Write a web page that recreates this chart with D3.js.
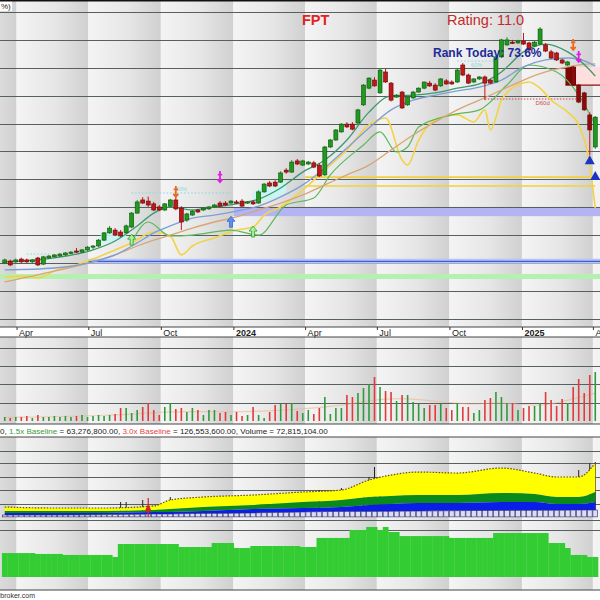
<!DOCTYPE html>
<html>
<head>
<meta charset="utf-8">
<script src="https://cdn.jsdelivr.net/npm/d3@7"></script>
<style>
  body { margin: 0; background: #fff; }
  svg { display: block; font-family: Arial, "Liberation Sans", sans-serif; }
</style>
</head>
<body>
<svg width="600" height="600"></svg>
<script>
// ---------- data (weekly bars, FPT) ----------
const weeks = d3.timeFriday.range(new Date(2023, 2, 17), new Date(2025, 3, 5));

const quarterStarts = ["2023-01-01","2023-04-01","2023-07-01","2023-10-01","2024-01-01","2024-04-01",
  "2024-07-01","2024-10-01","2025-01-01","2025-04-01","2025-07-01"].map(d => new Date(d + "T00:00:00"));
const quarterLabels = ["2023","Apr","Jul","Oct","2024","Apr","Jul","Oct","2025","Apr"];

const open = [70.0,70.7,70.4,71.4,71.1,70.4,71.8,69.6,71.8,72.2,72.5,72.9,73.6,74.3,73.9,74.7,75.7,76.1,78.2,80.8,
  81.8,81.1,80.8,82.9,87.9,92.6,92.2,91.2,90.1,89.0,90.4,92.6,89.7,85.4,87.2,89.0,89.0,89.4,90.1,91.5,
  91.5,91.5,91.9,92.2,91.5,91.9,91.5,95.5,98.7,99.0,99.0,103.3,102.6,106.6,105.1,105.5,105.9,105.1,101.6,111.6,
  114.1,117.0,119.8,119.8,120.2,126.7,132.7,135.6,131.0,138.5,134.5,129.5,131.3,126.7,129.2,131.3,132.7,134.5,133.8,133.5,
  135.3,134.9,134.9,141.0,137.4,134.9,136.0,136.7,135.6,134.9,143.9,148.2,149.2,148.9,149.6,148.9,147.8,148.5,148.2,145.7,
  145.3,142.8,141.0,140.3,133.8,131.0,123.1,111.6];
const high = [71.6,71.2,71.6,71.9,71.6,71.4,72.2,72.6,72.9,73.2,73.6,73.9,74.3,75.4,75.0,76.1,76.4,78.6,81.1,83.3,
  82.5,81.8,83.8,88.3,92.6,93.6,93.8,91.9,90.8,91.5,93.0,94.5,90.4,88.0,89.0,89.4,90.1,90.4,91.2,92.2,
  92.2,92.6,92.6,92.9,92.2,92.6,96.1,98.7,99.4,99.7,102.9,104.0,106.9,107.3,107.0,106.6,106.6,105.8,112.0,114.5,
  118.0,120.2,120.5,120.5,125.3,134.2,136.6,136.6,139.9,139.6,134.9,130.6,131.7,129.9,131.7,133.0,135.0,135.3,134.5,136.3,
  135.9,135.5,139.6,141.7,137.9,136.3,137.0,137.2,136.0,144.3,150.4,151.0,150.0,150.0,152.5,149.3,149.6,154.6,148.9,146.4,
  145.7,143.2,142.5,140.7,134.2,131.4,124.0,122.7];
const low = [69.6,68.9,70.0,70.0,70.0,70.0,68.9,69.3,71.4,71.8,72.2,72.5,73.2,73.6,73.6,74.3,75.0,75.7,77.9,80.4,
  79.7,79.3,80.4,82.5,87.6,91.2,90.1,88.6,88.6,88.6,90.1,88.9,81.8,84.7,86.9,87.9,88.6,89.0,89.7,90.1,
  90.4,91.2,91.2,90.1,91.2,90.8,91.2,95.2,97.2,97.2,98.7,102.0,102.3,105.1,104.8,105.1,104.0,100.8,101.2,111.2,
  113.8,116.7,118.4,117.6,119.8,126.3,132.3,133.2,130.6,134.6,127.9,129.2,125.2,126.3,128.8,131.0,132.3,133.1,131.6,133.1,
  133.9,133.9,134.5,137.0,134.2,134.5,135.6,128.4,134.2,134.5,143.5,147.8,148.5,148.5,148.2,146.0,147.4,148.2,145.6,143.2,
  142.4,141.3,140.6,133.4,127.3,124.5,108.7,110.9];
const close = [71.1,69.3,71.1,70.4,70.4,71.1,69.3,72.2,72.5,72.9,73.2,73.6,73.9,73.9,74.7,75.7,76.1,78.2,80.8,82.5,
  80.0,79.7,83.3,87.9,91.9,91.5,90.8,89.0,89.0,91.2,92.6,89.4,84.7,87.6,88.6,88.3,89.7,90.1,90.8,90.4,
  90.8,92.2,91.5,90.4,91.9,91.2,95.5,98.3,97.6,97.6,102.3,102.6,106.2,105.5,106.6,106.2,104.4,101.2,111.6,114.1,
  117.7,119.8,118.8,118.0,124.9,133.8,136.3,133.5,139.2,134.9,128.4,130.2,125.6,129.5,131.3,132.7,134.9,133.5,132.0,136.0,
  134.2,134.2,139.2,137.4,134.5,136.0,136.7,134.5,134.5,143.9,150.0,150.0,148.9,149.6,148.5,146.4,149.2,153.9,146.0,143.5,
  142.8,141.7,142.1,133.8,127.7,124.9,117.7,122.3];

// weekly volume, millions
const volume = [5.5,4.1,5.5,5.5,6.8,4.1,8.2,5.5,5.5,6.8,5.5,6.8,5.5,6.8,8.2,5.5,6.8,8.2,6.8,8.2,
  9.6,17.8,17.8,10.9,15.0,19.1,24.6,15.0,8.2,19.1,24.6,16.4,17.8,12.3,17.8,15.0,8.2,15.0,15.0,10.9,
  12.3,8.2,12.3,6.8,8.2,19.1,8.2,4.1,12.3,21.9,23.2,23.2,24.6,13.7,10.9,15.0,9.6,17.8,32.8,9.6,
  17.8,17.8,35.5,32.8,38.2,45.1,50.5,60.1,46.4,41.0,39.6,27.3,35.5,35.5,26.0,23.2,17.8,21.9,21.9,23.2,
  17.8,15.0,24.6,19.1,19.1,10.9,15.0,28.7,31.4,39.6,32.8,24.6,24.6,15.0,17.8,20.5,20.5,24.6,39.6,28.7,
  20.5,30.1,24.6,46.4,57.4,38.2,62.8,66.9];
const volMaIdx = [0, 20, 30, 40, 50, 60, 66, 72, 78, 84, 90, 96, 100, 107];
const volMa = [5, 7, 14, 12, 14, 20, 28, 32, 27, 22, 26, 20, 24, 38];

// overlay lines on the price pane, read at sample weeks
const maIdx = [0, 9, 16, 20, 24, 27, 30, 34, 38, 42, 46, 50, 54, 58, 62, 66, 70, 74, 78, 82, 86, 90, 94, 98, 102, 106, 107];
const maFast = [70.4,71.8,74.7,77.9,83.3,87.9,90.1,89.0,90.1,91.2,92.9,96.9,102.6,106.9,114.1,124.1,129.9,130.2,131.0,132.7,134.2,138.5,145.7,148.5,145.7,139.2,137.0];
const maMid = [67.5,68.2,70.4,72.9,77.2,80.8,83.3,86.1,87.2,88.6,90.4,93.7,98.0,104.1,111.2,118.4,124.9,128.4,130.2,131.7,133.1,135.6,140.3,142.8,143.5,141.7,140.6];
const maSlow = [63.2,67.1,70.4,72.9,76.1,78.2,80.0,82.5,84.7,86.5,89.0,91.5,94.4,98.0,101.6,105.1,110.5,115.9,120.6,124.9,128.4,132.0,135.6,138.5,140.3,141.4,141.4];
const rsIdx = [0,4,6,9,13,16,20,23,27,30,32,34,38,42,45,47,50,54,58,62,66,69,72,73,75,78,82,85,87,88,90,93,95,97,99,102,104,106,107];
const rsLine = [65.0,65.3,64.6,67.1,69.3,71.4,74.7,77.2,81.1,79.7,72.9,76.1,79.0,81.8,82.9,87.2,90.1,96.2,103.3,110.5,119.5,122.0,106.9,105.1,114.1,121.3,123.1,120.6,124.9,117.7,128.4,133.8,134.9,132.7,128.4,124.1,119.5,105.1,89.7];
const rsAvgIdx = [23, 26, 30, 34, 41, 46, 51, 56, 59, 65, 68, 71, 73, 75, 81, 86, 91, 95, 100, 104, 107];
const rsAvg = [77.5,84.7,79.7,80.0,81.8,80.0,90.8,93.3,101.6,112.3,117.0,109.8,111.6,118.8,123.1,124.9,133.8,141.0,138.5,130.2,119.5];

// light cyan clouds: [week indices], upper and lower edges
const cloudIdx = [[17, 19, 21, 22], [45, 47, 49, 51]];
const cloudTop = [[79.0, 81.8, 81.1, 80.8], [95.5, 97.8, 98.6, 99.6]];
const cloudBot = [[76.5, 77.5, 78.2, 78.6], [92.0, 92.6, 93.4, 95.5]];

// dotted reference lines: [from week, to week, price]
const cyanDots = [[23, 41, 95.1], [82, 89, 142.4], [4, 8, 73.2]];
const redDots = [[87, 105, 128.8]];

// levels on the price pane
const priceGrid = [50,60,70,80,90,100,110,120,130,140,150,160];
const blueLevel = 70.6, greenLevel = 65.2;
const lavBand = [86.8, 90.1];
const yellowLevels = [100.8, 97.6];
const pinkZone = [103.5, 140.3, 133.8];
const darkZone = [101.6, 103.5, 140.3, 133.8];

// signals: [week index, price]
const orangeSig = [[31, 95.5], [103, 148.2]];
const magentaSig = [[39, 100.8], [104, 143.9]];
const blueUpSig = [[41, 84.6]];
const greenUpSig = [[23, 78.2], [45, 81.1]];
const triSig = [[106, 106.8], [107, 101.2]];

// lower pane: volume baseline bands (millions) at sample weeks
const lowIdx = [0, 9, 18, 27, 30, 36, 45, 54, 61, 66, 70, 75, 82, 90, 96, 100, 104, 107];
const band3x = [30.6,28.4,28.4,32.8,45.9,52.4,56.8,63.3,67.7,89.5,100.4,107.0,104.8,115.7,104.8,96.1,96.1,126.6];
const band15x = [21.8,21.8,21.8,24.0,26.2,30.6,34.9,41.5,45.9,52.4,54.6,56.8,56.8,61.1,59.0,52.4,52.4,63.3];
const band1x = [17.5,17.5,17.5,19.7,19.7,21.8,26.2,28.4,30.6,34.9,37.1,39.3,39.3,41.5,41.5,37.1,37.1,41.5];
const bandLow = [13.1,13.1,13.5,15.3,15.3,16.4,17.5,19.7,20.7,21.0,21.3,21.8,22.3,23.0,23.5,23.5,24.0,24.0];
const spikeIdx = [21, 22, 25, 30, 57, 61, 64, 65, 66, 67, 68, 104, 106, 107];
const spikeTop = [41.5,41.5,45.9,52.4,67.7,72.1,78.6,83.0,96.1,117.9,89.5,111.4,126.6,128.8];
const lowGrid = [-19.7, 2.2, 37.1, 67.7, 96.1, 126.6, 152.8];

// bottom histogram
const rating = [19.0,19.0,19.0,19.0,19.0,19.0,18.3,18.3,18.3,18.3,18.3,17.5,17.5,17.5,17.5,17.5,17.5,17.5,17.5,17.5,
  15.9,26.2,26.2,26.2,26.2,26.2,26.2,26.2,26.2,26.2,26.2,26.2,23.8,23.8,23.8,23.8,23.8,23.8,27.0,27.0,
  27.0,27.0,23.0,23.0,23.0,24.6,24.6,24.6,24.6,24.6,24.6,24.6,24.6,24.6,23.8,23.8,23.8,31.0,31.0,31.0,
  31.0,31.0,31.0,37.3,37.3,37.3,39.7,39.7,37.3,39.7,35.7,35.7,32.5,32.5,32.5,32.5,32.5,32.5,32.5,32.5,
  32.5,31.0,31.0,31.0,31.0,31.0,31.0,31.0,31.0,34.9,34.9,34.9,34.9,34.9,34.9,34.9,34.9,34.9,34.9,27.0,
  27.0,27.0,23.0,17.5,17.5,17.5,15.9,15.9];

// ---------- chart ----------
const svg = d3.select("svg");
const W = 600;
const green = "#1f9a1f", red = "#c01818";

const x = d3.scaleTime().domain([new Date(2023, 2, 11), new Date(2025, 3, 10)]).range([0, W]);
const yP = d3.scaleLinear().domain([70, 160]).range([263, 12]);
const yV = d3.scaleLinear().domain([0, 100]).range([421, 347.8]);
const yL = d3.scaleLinear().domain([0, 130]).range([521, 461.5]);
const yR = d3.scaleLinear().domain([0, 100]).range([577, 451]);
const weekPos = d3.scaleLinear().domain(d3.range(weeks.length)).range(weeks.map(d => x(d)));
const xi = i => weekPos(i);
const up = i => close[i] >= open[i];

const panes = [
  {id: "pPrice", top: 1, bottom: 327},
  {id: "pVol", top: 337, bottom: 424},
  {id: "pLow", top: 437, bottom: 590}
];

const defs = svg.append("defs");
const grad = defs.append("linearGradient").attr("id", "colGrad").attr("x1", 0).attr("x2", 1).attr("y1", 0).attr("y2", 0);
grad.append("stop").attr("offset", "0%").attr("stop-color", "#f4f4f4");
grad.append("stop").attr("offset", "55%").attr("stop-color", "#e6e6e6");
grad.append("stop").attr("offset", "100%").attr("stop-color", "#d0d0d0");
panes.forEach(p => {
  defs.append("clipPath").attr("id", "clip-" + p.id)
    .append("rect").attr("x", 0).attr("y", p.top).attr("width", W).attr("height", p.bottom - p.top);
});

// column backgrounds
panes.forEach(p => {
  svg.append("g").selectAll("rect")
    .data(d3.pairs(quarterStarts))
    .join("rect")
    .attr("x", d => x(d[0]))
    .attr("width", d => x(d[1]) - x(d[0]))
    .attr("y", p.top).attr("height", p.bottom - p.top)
    .attr("fill", "url(#colGrad)");
});

// ===== price pane =====
const gp = svg.append("g").attr("clip-path", "url(#clip-pPrice)");

gp.append("rect")
  .attr("x", x(quarterStarts[4])).attr("width", W - x(quarterStarts[4]))
  .attr("y", yP(lavBand[1])).attr("height", yP(lavBand[0]) - yP(lavBand[1]))
  .attr("fill", "#b4b4f4");

gp.selectAll(".grid").data(priceGrid).join("line")
  .attr("x1", 0).attr("x2", W)
  .attr("y1", d => Math.round(yP(d)) + 0.5).attr("y2", d => Math.round(yP(d)) + 0.5)
  .attr("stroke", "#56605e").attr("stroke-width", 1);

gp.append("line").attr("x1", 0).attr("x2", W)
  .attr("y1", yP(greenLevel)).attr("y2", yP(greenLevel))
  .attr("stroke", "#b6f0b0").attr("stroke-width", 5);
gp.append("line").attr("x1", x(quarterStarts[2])).attr("x2", W)
  .attr("y1", yP(blueLevel)).attr("y2", yP(blueLevel))
  .attr("stroke", "#b8c4f4").attr("stroke-width", 5);
gp.append("line").attr("x1", x(quarterStarts[2])).attr("x2", W)
  .attr("y1", yP(blueLevel)).attr("y2", yP(blueLevel))
  .attr("stroke", "#3d5fd0").attr("stroke-width", 1.3);

gp.selectAll(".ylev").data(yellowLevels).join("line")
  .attr("x1", x(quarterStarts[5])).attr("x2", xi(107))
  .attr("y1", d => yP(d)).attr("y2", d => yP(d))
  .attr("stroke", "#f0d040").attr("stroke-width", 1.6);

// clouds
cloudIdx.forEach((ix, c) => {
  gp.append("path")
    .attr("d", d3.area().x((d, k) => xi(ix[k])).y0((d, k) => yP(cloudBot[c][k])).y1(d => yP(d))
      .curve(d3.curveMonotoneX)(cloudTop[c]))
    .attr("fill", "#c6f6f4").attr("opacity", 0.9);
});

// zones at the end
gp.append("rect")
  .attr("x", xi(pinkZone[0])).attr("width", W - xi(pinkZone[0]))
  .attr("y", yP(pinkZone[1])).attr("height", yP(pinkZone[2]) - yP(pinkZone[1]))
  .attr("fill", "#ffdede");
gp.append("rect")
  .attr("x", xi(darkZone[0])).attr("width", xi(darkZone[1]) - xi(darkZone[0]))
  .attr("y", yP(darkZone[2])).attr("height", yP(darkZone[3]) - yP(darkZone[2]))
  .attr("fill", "#7a0606");
gp.append("line").attr("x1", xi(darkZone[0])).attr("x2", W)
  .attr("y1", yP(pinkZone[2])).attr("y2", yP(pinkZone[2])).attr("stroke", "#8a1010").attr("stroke-width", 1.2);

// dotted reference lines
gp.selectAll(".cdot").data(cyanDots).join("line")
  .attr("x1", d => xi(d[0])).attr("x2", d => xi(d[1]))
  .attr("y1", d => yP(d[2])).attr("y2", d => yP(d[2]))
  .attr("stroke", "#7fd8e0").attr("stroke-width", 1).attr("stroke-dasharray", "1.5,2");
gp.selectAll(".clab").data(cyanDots.slice(0, 2)).join("text")
  .attr("x", d => xi((d[0] + d[1]) / 2)).attr("y", (d, k) => yP(d[2]) + (k === 0 ? -2 : 6))
  .attr("font-size", 5.5).attr("fill", "#8ad8e0").attr("text-anchor", "middle").text("60%");
gp.selectAll(".rdot").data(redDots).join("line")
  .attr("x1", d => xi(d[0])).attr("x2", d => xi(d[1]))
  .attr("y1", d => yP(d[2])).attr("y2", d => yP(d[2]))
  .attr("stroke", "#d04040").attr("stroke-width", 1).attr("stroke-dasharray", "1.5,1.5");
gp.selectAll(".rlab").data(redDots).join("text")
  .attr("x", d => xi((d[0] + d[1]) / 2) + 8).attr("y", d => yP(d[2]) + 6)
  .attr("font-size", 6).attr("fill", "#d05050").attr("text-anchor", "middle").text("D60d");

const line = (idx, vals) => d3.line().x((d, k) => xi(idx[k])).y(d => yP(d)).curve(d3.curveMonotoneX)(vals);
gp.append("path").attr("d", line(rsIdx, rsLine)).attr("fill", "none").attr("stroke", "#f2d347").attr("stroke-width", 1.6);
gp.append("path").attr("d", line(rsAvgIdx, rsAvg)).attr("fill", "none").attr("stroke", "#5cb85a").attr("stroke-width", 1.2);
gp.append("path").attr("d", line(maIdx, maSlow)).attr("fill", "none").attr("stroke", "#d9a574").attr("stroke-width", 1.3);
gp.append("path").attr("d", line(maIdx, maMid)).attr("fill", "none").attr("stroke", "#7d9fd4").attr("stroke-width", 1.3);
gp.append("path").attr("d", line(maIdx, maFast)).attr("fill", "none").attr("stroke", "#3a9a6e").attr("stroke-width", 1.3);

// candles
const idx = d3.range(weeks.length);
gp.selectAll(".wick").data(idx).join("line")
  .attr("x1", xi).attr("x2", xi)
  .attr("y1", i => yP(high[i])).attr("y2", i => yP(low[i]))
  .attr("stroke", i => up(i) ? green : red).attr("stroke-width", 1);
gp.selectAll(".body").data(idx).join("rect")
  .attr("x", i => xi(i) - 2).attr("width", 4)
  .attr("y", i => yP(Math.max(open[i], close[i])))
  .attr("height", i => Math.max(1.2, Math.abs(yP(open[i]) - yP(close[i]))))
  .attr("fill", i => up(i) ? green : (i >= 103 ? "#8c0a0a" : red))
  .attr("stroke", i => up(i) ? "#0c4f0c" : "#640808").attr("stroke-width", 0.6);

// signals
const sig = (data, pathStr, fill, stroke, sw) => gp.append("g").selectAll("path").data(data).join("path")
  .attr("transform", d => `translate(${xi(d[0])},${yP(d[1])})`)
  .attr("d", pathStr).attr("fill", fill).attr("stroke", stroke).attr("stroke-width", sw);
sig(orangeSig, "M0,-6L0,5M-2.5,2L0,5L2.5,2M-2.2,-2.5L2.2,-2.5", "none", "#ee6a1a", 1.8);
sig(magentaSig, "M0,-6L0,5M-2.5,2L0,5L2.5,2M-2.2,-2.5L2.2,-2.5", "none", "#e020e0", 1.8);
sig(blueUpSig, "M0,-6L4,-1L1.5,-1L1.5,5L-1.5,5L-1.5,-1L-4,-1Z", "#5a90f0", "#2050c0", 0.6);
sig(greenUpSig, "M0,-6L4,-1L1.5,-1L1.5,5L-1.5,5L-1.5,-1L-4,-1Z", "#a8f0a0", "#2a9a2a", 0.8);
sig(triSig, "M0,-5L5,4L-5,4Z", "#1a34c8", "none", 0);

// titles
svg.append("rect").attr("x", 0).attr("y", 1).attr("width", 12).attr("height", 10).attr("fill", "#fff");
svg.append("text").attr("x", 1).attr("y", 9).attr("font-size", 8).attr("fill", "#222").text("%)");
svg.append("text").attr("x", 302).attr("y", 25).attr("font-size", 14.5).attr("font-weight", "bold")
  .attr("fill", "#e42222").text("FPT");
svg.append("text").attr("x", 447).attr("y", 25).attr("font-size", 14.5)
  .attr("fill", "#c42a2a").text("Rating: 11.0");
svg.append("text").attr("x", 433).attr("y", 57).attr("font-size", 12).attr("font-weight", "bold")
  .attr("fill", "#1c2a9a").text("Rank Today: 73.6%");

// ===== date axis row =====
svg.append("rect").attr("x", 0).attr("y", 327).attr("width", W).attr("height", 10).attr("fill", "#fff");
const ax = svg.append("g").attr("transform", "translate(0,327)")
  .call(d3.axisBottom(x).tickValues(quarterStarts.slice(1, 10)).tickSize(3)
    .tickFormat((d, k) => quarterLabels[k + 1]));
ax.select(".domain").remove();
ax.selectAll(".tick line").attr("stroke", "#333");
ax.selectAll(".tick text").attr("text-anchor", "start").attr("x", 2).attr("y", 2.5).attr("dy", "0.71em")
  .attr("font-size", 9).attr("font-family", "Arial, sans-serif").attr("fill", "#222")
  .attr("font-weight", (d, k) => /^\d/.test(quarterLabels[k + 1]) ? "bold" : "normal");

// ===== volume pane =====
const gv = svg.append("g").attr("clip-path", "url(#clip-pVol)");
gv.selectAll(".grid").data([25, 50, 75, 100]).join("line")
  .attr("x1", 0).attr("x2", W)
  .attr("y1", d => Math.round(yV(d)) + 0.5).attr("y2", d => Math.round(yV(d)) + 0.5)
  .attr("stroke", "#56605e");
gv.append("path")
  .attr("d", d3.line().x((d, k) => xi(volMaIdx[k])).y(d => yV(d)).curve(d3.curveBasis)(volMa))
  .attr("fill", "none").attr("stroke", "#f0b48e").attr("stroke-width", 1.2).attr("opacity", 0.6);
gv.selectAll(".vbar").data(idx).join("line")
  .attr("x1", xi).attr("x2", xi)
  .attr("y1", yV(0)).attr("y2", i => yV(volume[i]))
  .attr("stroke", i => up(i) ? "#2f9a3a" : "#e23a3a").attr("stroke-width", 1.6);

// label row
svg.append("rect").attr("x", 0).attr("y", 424).attr("width", W).attr("height", 13).attr("fill", "#fff");
const vt = svg.append("text").attr("x", 0).attr("y", 433.5).attr("font-size", 8.05).attr("fill", "#222");
vt.append("tspan").text("0, ");
vt.append("tspan").attr("fill", "#3c9a3c").text("1.5x Baseline");
vt.append("tspan").text(" = 63,276,800.00, ");
vt.append("tspan").attr("fill", "#e04646").text("3.0x Baseline");
vt.append("tspan").text(" = 126,553,600.00, Volume = 72,815,104.00");

// ===== lower pane =====
const gl = svg.append("g").attr("clip-path", "url(#clip-pLow)");
gl.selectAll(".grid").data(lowGrid).join("line")
  .attr("x1", 0).attr("x2", W)
  .attr("y1", d => Math.round(yL(d)) + 0.5).attr("y2", d => Math.round(yL(d)) + 0.5)
  .attr("stroke", "#56605e");

gl.selectAll(".spike").data(spikeIdx).join("line")
  .attr("x1", i => xi(i)).attr("x2", i => xi(i))
  .attr("y1", yL(20)).attr("y2", (i, k) => yL(spikeTop[k]))
  .attr("stroke", "#222").attr("stroke-width", 1);

const band = (top, bot) => d3.area()
  .x((d, k) => xi(lowIdx[k])).y0((d, k) => yL(bot[k])).y1(d => yL(d))
  .curve(d3.curveMonotoneX)(top);
gl.append("path").attr("d", band(band3x, band15x)).attr("fill", "#ffff00");
gl.append("path").attr("d", band(band15x, band1x)).attr("fill", "#0a8a1a");
gl.append("path").attr("d", band(band1x, bandLow)).attr("fill", "#0a1ee8");
gl.append("path")
  .attr("d", d3.line().x((d, k) => xi(lowIdx[k])).y(d => yL(d)).curve(d3.curveMonotoneX)(band3x))
  .attr("fill", "none").attr("stroke", "#6a4a10").attr("stroke-width", 1.2).attr("stroke-dasharray", "1.5,1.5");

// strip of weekly boxes under the bands
const lowInterp = d3.scaleLinear().domain(lowIdx).range(bandLow);
gl.selectAll(".box").data(idx).join("rect")
  .attr("x", i => xi(i) - 2.4).attr("width", 4.8)
  .attr("y", i => yL(lowInterp(i))).attr("height", i => yL(9) - yL(lowInterp(i)))
  .attr("fill", "#dcdcf6").attr("stroke", "#2a2a6a").attr("stroke-width", 0.6);

// red marker
gl.append("line").attr("x1", xi(26)).attr("x2", xi(26)).attr("y1", yL(50)).attr("y2", yL(9))
  .attr("stroke", "#e02020").attr("stroke-width", 1.2);
gl.append("path").attr("transform", `translate(${xi(26)},${yL(28)})`)
  .attr("d", "M0,-4L3.5,3L-3.5,3Z").attr("fill", "#e02020");

// histogram
gl.selectAll(".hist").data(idx).join("rect")
  .attr("x", i => xi(i) - 2.8).attr("width", 5.8)
  .attr("y", i => yR(rating[i])).attr("height", i => yR(0) - yR(rating[i]))
  .attr("fill", "#33cc33");

// pane borders
[0.75, 327, 337, 424, 437, 590].forEach((yy, k) => {
  svg.append("line").attr("x1", 0).attr("x2", W).attr("y1", yy).attr("y2", yy)
    .attr("stroke", k === 0 ? "#111" : "#444").attr("stroke-width", k === 0 ? 1.5 : 1);
});

// footer
svg.append("text").attr("x", 35).attr("y", 598).attr("text-anchor", "end")
  .attr("font-size", 7).attr("fill", "#333").text("www.amibroker.com");
</script>
</body>
</html>
